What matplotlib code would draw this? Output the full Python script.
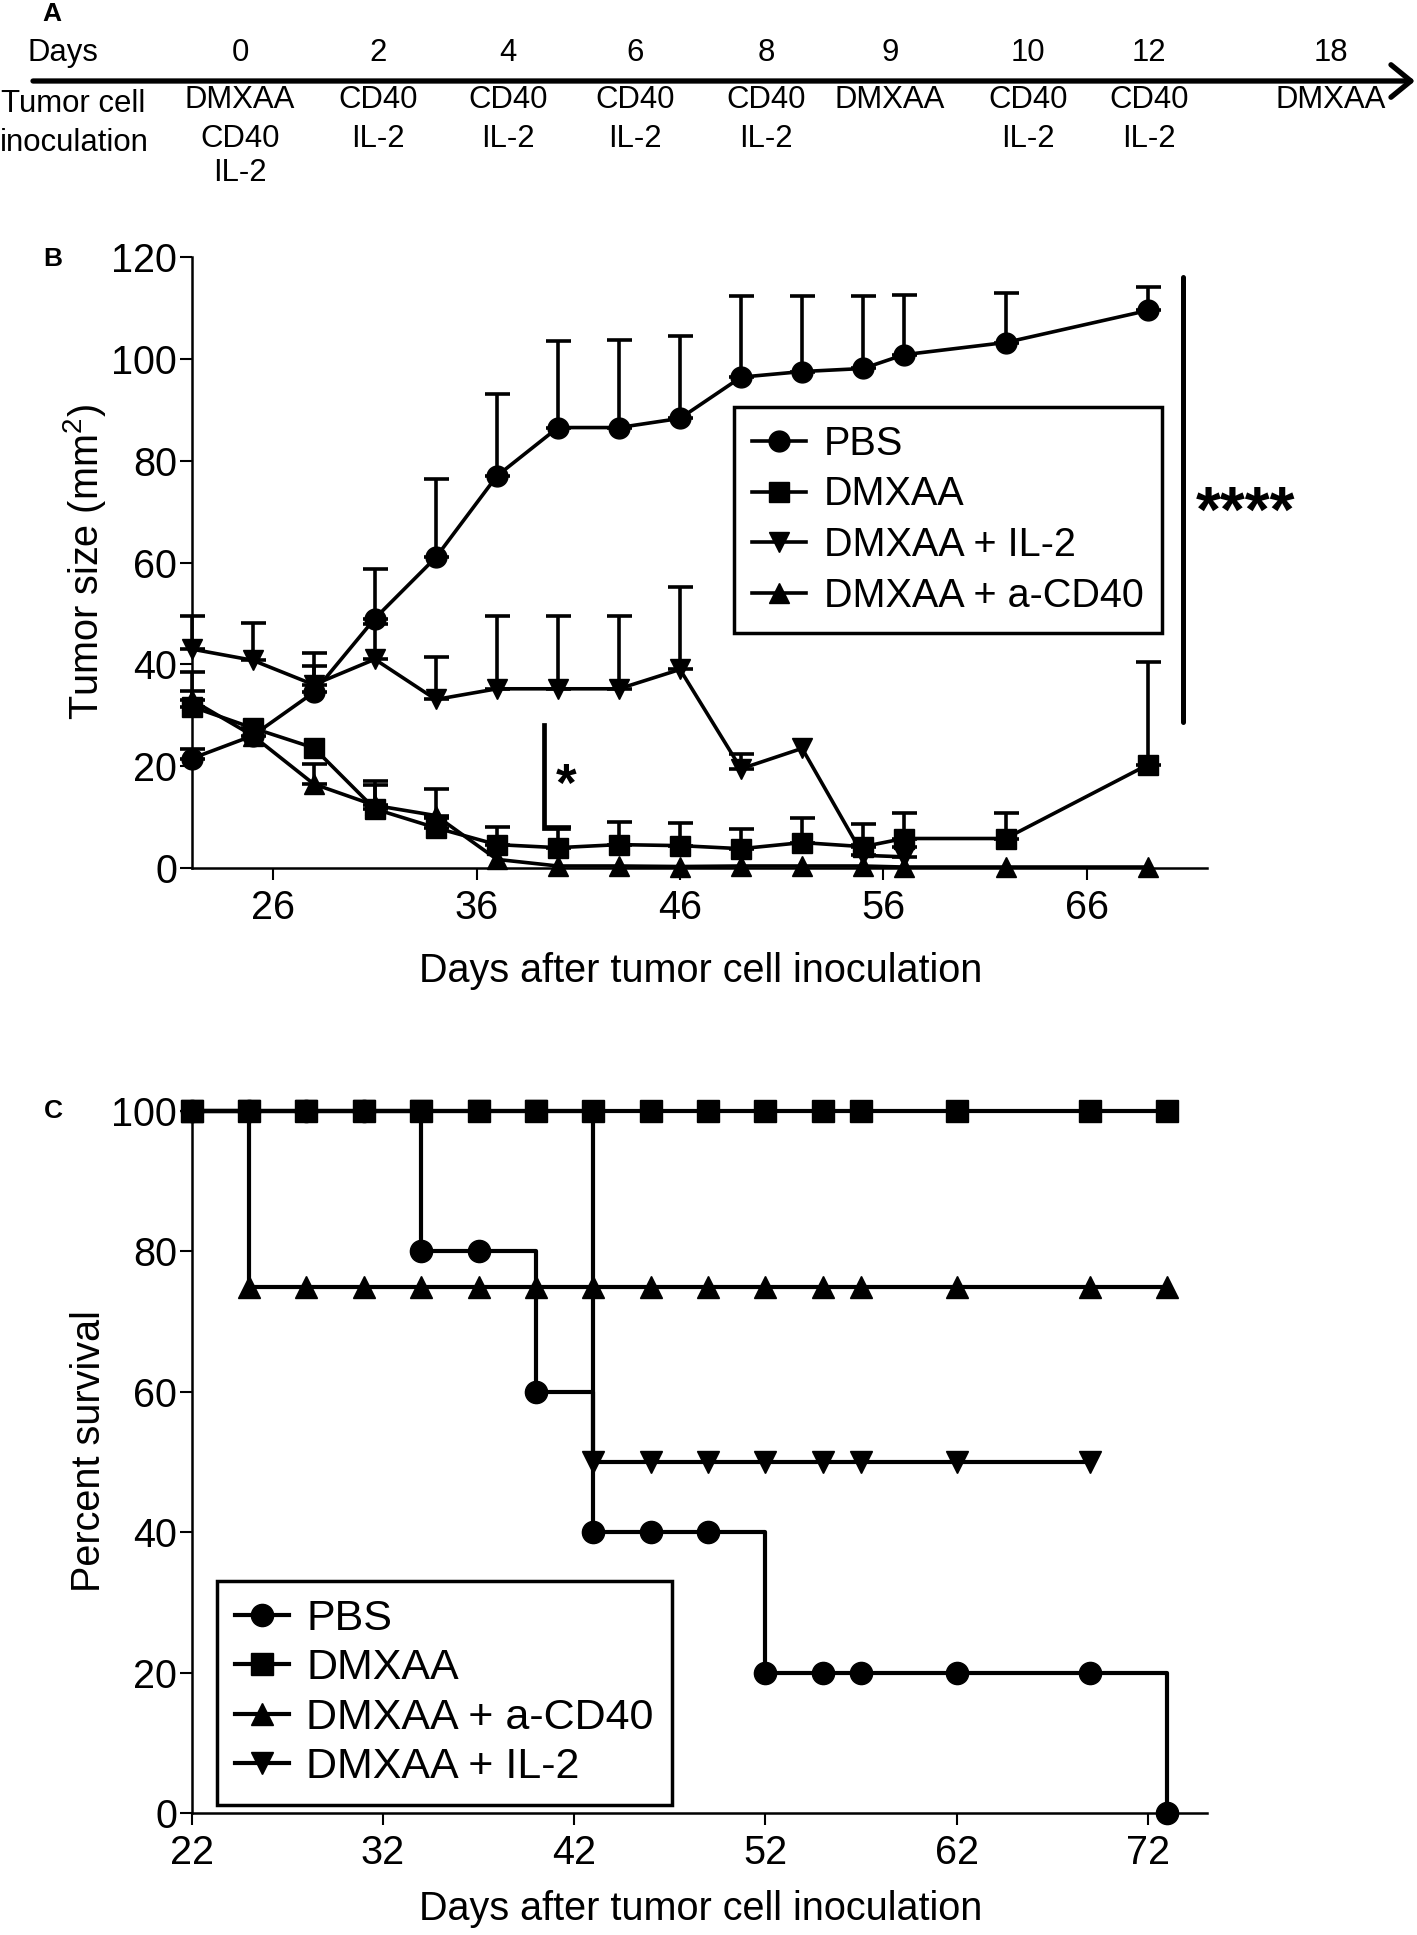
import numpy as np
import matplotlib
matplotlib.use('Agg')
import matplotlib.pyplot as plt

plt.rcParams['font.family'] = ['Liberation Sans', 'DejaVu Sans']
plt.rcParams['mathtext.fontset'] = 'custom'
plt.rcParams['mathtext.rm'] = 'Liberation Sans'

# A: treatment schedule
sched_days = ['0', '2', '4', '6', '8', '9', '10', '12', '18']
sched_txt = [['DMXAA', 'CD40', 'IL-2'], ['CD40', 'IL-2'], ['CD40', 'IL-2'],
             ['CD40', 'IL-2'], ['CD40', 'IL-2'], ['DMXAA'], ['CD40', 'IL-2'],
             ['CD40', 'IL-2'], ['DMXAA']]

# B: tumor size (mean and upper SEM)
days_b = np.array([22, 25, 28, 31, 34, 37, 40, 43, 46, 49, 52, 55, 57, 62, 69])
pbs_mean = np.array([21.5, 26, 34.5, 49, 61, 77, 86.5, 86.5, 88.3, 96.4, 97.5, 98.1, 100.8, 103.2, 109.5])
pbs_err = np.array([1.8, 1.5, 5.2, 9.8, 15.4, 16.1, 17.0, 17.1, 16.1, 16.0, 14.9, 14.3, 11.8, 9.7, 4.7])
dmx_mean = np.array([31.7, 27.5, 23.6, 11.6, 7.9, 4.6, 4.0, 4.6, 4.4, 3.8, 5.0, 4.2, 5.8, 5.8, 20.3])
dmx_err = np.array([3.1, 0, 0, 5.4, 2.0, 3.4, 4.0, 4.5, 4.4, 3.8, 4.9, 4.5, 5.1, 5.1, 20.2])
days_il2 = days_b[:13]
il2_mean = np.array([43, 40.8, 36, 41, 33.1, 35.2, 35.2, 35.2, 39, 19.5, 23.5, 2.5, 2.2])
il2_err = np.array([6.5, 7.4, 6.2, 7.0, 8.3, 14.3, 14.3, 14.3, 16.1, 2.9, 0, 2.0, 2.0])
cd40_mean = np.array([33, 26, 16.5, 12.3, 10.3, 1.7, 0.4, 0.4, 0.3, 0.4, 0.4, 0.4, 0.2, 0.2, 0.2])
cd40_err = np.array([5.5, 0, 4.0, 4.0, 5.3, 0, 0, 0, 0, 0, 0, 0, 0, 0, 0])

# C: survival
days_c = [22, 25, 28, 31, 34, 37, 40, 43, 46, 49, 52, 55, 57, 62, 69, 73]
surv_pbs = [100, 100, 100, 100, 80, 80, 60, 40, 40, 40, 20, 20, 20, 20, 20, 0]
surv_dmx = [100] * 16
surv_cd40 = [100] + [75] * 15
days_c_il2 = days_c[:15]
surv_il2 = [100] * 7 + [50] * 8

fig = plt.figure(figsize=(14.17, 19.35), dpi=100)

# ---------- panel A ----------
axA = fig.add_axes([0, 0, 1, 1])
axA.set_xlim(0, 1417)
axA.set_ylim(1935, 0)
axA.axis('off')
fsA = 22.4
xs = [240, 378, 508, 635, 766, 890, 1028, 1149, 1331]
rows_y = [100, 139, 173]
axA.text(52, 14, 'A', fontsize=19, fontweight='bold', ha='center', va='center')
axA.text(28, 53, 'Days', fontsize=fsA, ha='left', va='center')
axA.text(1, 104, 'Tumor cell', fontsize=fsA, ha='left', va='center')
axA.text(0, 143, 'inoculation', fontsize=fsA, ha='left', va='center')
for x, d, lines in zip(xs, sched_days, sched_txt):
    axA.text(x, 53, d, fontsize=fsA, ha='center', va='center')
    for y, t in zip(rows_y, lines):
        axA.text(x, y, t, fontsize=fsA, ha='center', va='center')
axA.annotate('', xy=(1415, 81), xytext=(33, 81),
             arrowprops=dict(arrowstyle='->,head_length=0.55,head_width=0.45',
                             lw=3.8, color='k', mutation_scale=26, shrinkA=0, shrinkB=0))
axA.text(53, 259, 'B', fontsize=19, fontweight='bold', ha='center', va='center')
axA.text(53, 1111, 'C', fontsize=19, fontweight='bold', ha='center', va='center')

ms = 15
lw = 2.6

def style_axes(ax):
    for s in ['top', 'right']:
        ax.spines[s].set_visible(False)
    for s in ['left', 'bottom']:
        ax.spines[s].set_linewidth(1.8)
    ax.tick_params(direction='out', length=8.5, width=1.5, labelsize=28.5)
    ax.tick_params(axis='y', pad=2)
    ax.tick_params(axis='x', pad=6.5)

# ---------- panel B ----------
axB = fig.add_axes([0.1353, 0.5514, 0.7165, 0.3158])
series_b = [
    (days_b, pbs_mean, pbs_err, 'o', 'PBS'),
    (days_b, dmx_mean, dmx_err, 's', 'DMXAA'),
    (days_il2, il2_mean, il2_err, 'v', 'DMXAA + IL-2'),
    (days_b, cd40_mean, cd40_err, '^', 'DMXAA + a-CD40'),
]
for x, m, e, mk, lab in series_b:
    keep = e > 0
    axB.errorbar(x[keep], m[keep], yerr=[np.zeros(keep.sum()), e[keep]], fmt='none',
                 ecolor='k', elinewidth=lw, capsize=9, capthick=lw, clip_on=False)
    axB.plot(x, m, color='k', lw=lw, marker=mk, ms=ms, label=lab, clip_on=False)

axB.plot([39.3, 39.3, 40.5], [28.1, 7.9, 7.9], color='k', lw=3.4, solid_joinstyle='miter')
axB.text(40.4, 13.1, '*', fontsize=38, fontweight='bold', ha='center', va='baseline')
axB.plot([70.7, 70.7], [28.6, 116], color='k', lw=3.6, clip_on=False, solid_capstyle='round')
axB.text(73.8, 66.0, '****', fontsize=46, fontweight='bold', ha='center', va='baseline', clip_on=False)

axB.set_xlim(22, 71.9)
axB.set_ylim(0, 120)
axB.set_xticks([26, 36, 46, 56, 66])
axB.set_yticks([0, 20, 40, 60, 80, 100, 120])
style_axes(axB)
axB.set_ylabel(r'Tumor size (mm$^\mathregular{2}$)', fontsize=28.5)
axB.set_xlabel('Days after tumor cell inoculation', fontsize=28.5)
axB.yaxis.set_label_coords(-0.082, 0.501)
axB.xaxis.set_label_coords(0.501, -0.137)
legB = axB.legend(loc='upper left', bbox_to_anchor=(0.534, 0.7545), borderaxespad=0,
                  fontsize=28.5, frameon=True, fancybox=False, framealpha=1, edgecolor='k',
                  handlelength=1.36, handletextpad=0.47, labelspacing=0.32, borderpad=0.45)
legB.get_frame().set_linewidth(2.5)

# ---------- panel C ----------
axC = fig.add_axes([0.1353, 0.0630, 0.7165, 0.3628])
msC = 16
lwC = 3.0
axC.plot(days_c, surv_pbs, color='k', lw=lwC, marker='o', ms=msC, drawstyle='steps-post',
         label='PBS', clip_on=False, zorder=3)
axC.plot(days_c_il2, surv_il2, color='k', lw=lwC, marker='v', ms=msC, drawstyle='steps-post',
         label='DMXAA + IL-2', clip_on=False, zorder=3)
axC.plot(days_c, surv_cd40, color='k', lw=lwC, marker='^', ms=msC, drawstyle='steps-post',
         label='DMXAA + a-CD40', clip_on=False, zorder=3)
axC.plot(days_c, surv_dmx, color='k', lw=lwC, marker='s', ms=msC, drawstyle='steps-post',
         label='DMXAA', clip_on=False, zorder=4)
axC.set_xlim(22, 75.1)
axC.set_ylim(0, 100)
axC.set_xticks([22, 32, 42, 52, 62, 72])
axC.set_yticks([0, 20, 40, 60, 80, 100])
style_axes(axC)
axC.set_ylabel('Percent survival', fontsize=28.5)
axC.set_xlabel('Days after tumor cell inoculation', fontsize=28.5)
axC.yaxis.set_label_coords(-0.082, 0.515)
axC.xaxis.set_label_coords(0.501, -0.109)
h, l = axC.get_legend_handles_labels()
order = [l.index(n) for n in ['PBS', 'DMXAA', 'DMXAA + a-CD40', 'DMXAA + IL-2']]
legC = axC.legend([h[i] for i in order], [l[i] for i in order], loc='lower left',
                  bbox_to_anchor=(0.025, 0.011), borderaxespad=0, fontsize=31,
                  frameon=True, fancybox=False, framealpha=1, edgecolor='k',
                  handlelength=1.25, handletextpad=0.4, labelspacing=0.22, borderpad=0.42)
legC.get_frame().set_linewidth(2.5)
legC.set_zorder(5)

fig.savefig('out.png', dpi=100)
